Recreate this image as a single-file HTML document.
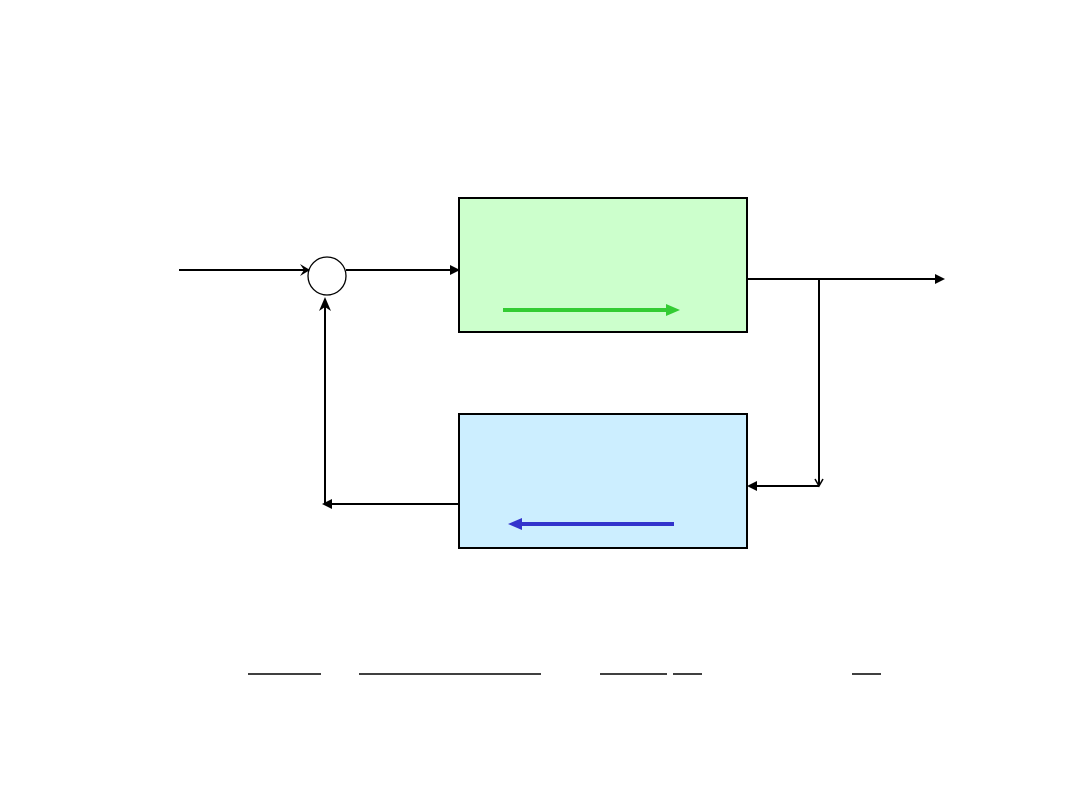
<!DOCTYPE html>
<html><head><meta charset="utf-8"><style>html,body{margin:0;padding:0;background:#fff;}svg{display:block}</style></head>
<body>
<svg width="1080" height="810" viewBox="0 0 1080 810" xmlns="http://www.w3.org/2000/svg">
<rect width="1080" height="810" fill="#fff"/>
<!-- blocks -->
<rect x="459" y="198" width="288" height="134" fill="#ccffcc" stroke="#000" stroke-width="2"/>
<rect x="459" y="414" width="288" height="134" fill="#cceeff" stroke="#000" stroke-width="2"/>
<!-- green arrow -->
<line x1="503" y1="310" x2="668" y2="310" stroke="#33cc33" stroke-width="4"/>
<polygon points="680,310 666,304 666,316" fill="#33cc33"/>
<!-- blue arrow -->
<line x1="674" y1="524" x2="520" y2="524" stroke="#3333cc" stroke-width="4"/>
<polygon points="508,524 522,518 522,530" fill="#3333cc"/>
<!-- summing junction -->
<circle cx="327" cy="276" r="19" fill="#fff" stroke="#000" stroke-width="1.3"/>
<!-- input -->
<line x1="179" y1="270" x2="306" y2="270" stroke="#000" stroke-width="2"/>
<polygon points="310,270 300,264 304,270 300,276" fill="#000"/>
<!-- sum to block -->
<line x1="346" y1="270" x2="452" y2="270" stroke="#000" stroke-width="2"/>
<polygon points="460,270 450,265 450,275" fill="#000"/>
<!-- output -->
<line x1="747" y1="279" x2="936" y2="279" stroke="#000" stroke-width="2"/>
<polygon points="945,279 935,274 935,284" fill="#000"/>
<!-- feedback down -->
<line x1="819" y1="279" x2="819" y2="486" stroke="#000" stroke-width="2"/>
<polyline points="815,479 819,486 823,479" fill="none" stroke="#000" stroke-width="1.5"/>
<line x1="819" y1="486" x2="755" y2="486" stroke="#000" stroke-width="2"/>
<polygon points="747,486 757,481 757,491" fill="#000"/>
<!-- feedback out -->
<line x1="459" y1="504" x2="330" y2="504" stroke="#000" stroke-width="2"/>
<polygon points="322,504 332,499 332,509" fill="#000"/>
<line x1="325" y1="504" x2="325" y2="304" stroke="#000" stroke-width="2"/>
<polygon points="325,297 319,311 325,307 331,311" fill="#000"/>
<!-- bottom lines -->
<g stroke="#000" stroke-width="1.5">
<line x1="248" y1="674" x2="321" y2="674"/>
<line x1="359" y1="674" x2="541" y2="674"/>
<line x1="600" y1="674" x2="667" y2="674"/>
<line x1="673" y1="674" x2="702" y2="674"/>
<line x1="852" y1="674" x2="881" y2="674"/>
</g>
</svg>
</body></html>
